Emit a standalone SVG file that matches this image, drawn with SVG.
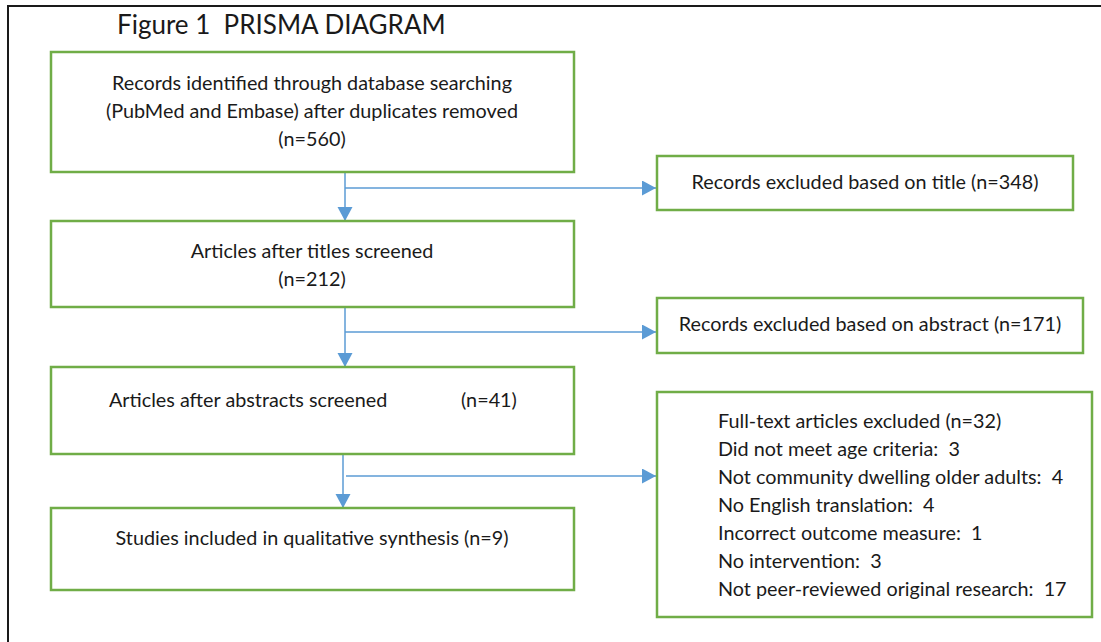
<svg xmlns="http://www.w3.org/2000/svg" width="1101" height="642" viewBox="0 0 1101 642">
<defs>
<marker id="ah" markerUnits="userSpaceOnUse" markerWidth="16" markerHeight="16" refX="14" refY="7.5" orient="auto">
<path d="M0,0 L14,7.5 L0,15 Z" fill="#5B9BD5"/>
</marker>
</defs>
<style>
.box{fill:#fff;stroke:#70AD47;stroke-width:2.5}
.t{font-family:Lato,"Liberation Sans",sans-serif;font-size:19.8px;fill:#1a1a1a;white-space:pre}
.c{text-anchor:middle}
.ln{stroke:#5B9BD5;stroke-width:1.5;fill:none}
</style>
<rect width="1101" height="642" fill="#fff"/>
<g id="frame">
<path d="M8,642 L8,6 L1101,6" fill="none" stroke="#1a1a1a" stroke-width="2"/>
</g>
<g id="title">
<text x="117" y="34" xml:space="preserve" style="font-family:Lato,'Liberation Sans',sans-serif;font-size:26px;fill:#1a1a1a;white-space:pre">Figure 1  PRISMA DIAGRAM</text>
</g>
<g id="connectors">
<line class="ln" x1="345" y1="172" x2="345" y2="221" marker-end="url(#ah)"/>
<line class="ln" x1="345" y1="188" x2="656" y2="188" marker-end="url(#ah)"/>
<line class="ln" x1="345" y1="307" x2="345" y2="367" marker-end="url(#ah)"/>
<line class="ln" x1="345" y1="332" x2="656" y2="332" marker-end="url(#ah)"/>
<line class="ln" x1="343" y1="452" x2="343" y2="508" marker-end="url(#ah)"/>
<line class="ln" x1="346" y1="476" x2="656" y2="476" marker-end="url(#ah)"/>
</g>
<g id="n1">
<rect class="box" x="51" y="52" width="523" height="120"/>
<text class="t c" x="312" y="90">Records identified through database searching</text>
<text class="t c" x="312" y="118">(PubMed and Embase) after duplicates removed</text>
<text class="t c" x="312" y="146">(n=560)</text>
</g>
<g id="n2">
<rect class="box" x="657" y="156" width="416" height="54"/>
<text class="t c" x="865" y="189">Records excluded based on title (n=348)</text>
</g>
<g id="n3">
<rect class="box" x="51" y="221" width="523" height="86"/>
<text class="t c" x="312" y="258">Articles after titles screened</text>
<text class="t c" x="312" y="286">(n=212)</text>
</g>
<g id="n4">
<rect class="box" x="657" y="298" width="426" height="55"/>
<text class="t c" x="870" y="331">Records excluded based on abstract (n=171)</text>
</g>
<g id="n5">
<rect class="box" x="51" y="367" width="523" height="87"/>
<text class="t" x="109" y="407">Articles after abstracts screened</text>
<text class="t" x="461" y="407">(n=41)</text>
</g>
<g id="n6">
<rect class="box" x="51" y="508" width="523" height="82"/>
<text class="t c" x="312" y="545">Studies included in qualitative synthesis (n=9)</text>
</g>
<g id="n7">
<rect class="box" x="657" y="392" width="435" height="225"/>
<text class="t" x="718" y="428">Full-text articles excluded (n=32)</text>
<text class="t" x="718" y="456" xml:space="preserve">Did not meet age criteria:  3</text>
<text class="t" x="718" y="484" xml:space="preserve">Not community dwelling older adults:  4</text>
<text class="t" x="718" y="512" xml:space="preserve">No English translation:  4</text>
<text class="t" x="718" y="540" xml:space="preserve">Incorrect outcome measure:  1</text>
<text class="t" x="718" y="568" xml:space="preserve">No intervention:  3</text>
<text class="t" x="718" y="596" xml:space="preserve">Not peer-reviewed original research:  17</text>
</g>
</svg>
